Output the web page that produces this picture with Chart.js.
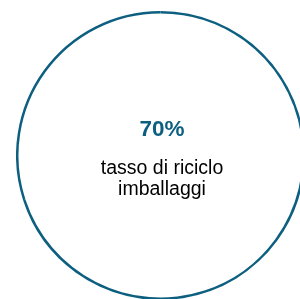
<!DOCTYPE html>
<html>
<head>
<meta charset="utf-8">
<script src="https://cdn.jsdelivr.net/npm/chart.js@4"></script>
<style>
  html, body { margin: 0; padding: 0; background: #fff; overflow: hidden; width: 300px; height: 299px; }
  #wrap { position: absolute; left: 15.5px; top: 10.5px; width: 289px; height: 289px; }
</style>
</head>
<body>
<div id="wrap"><canvas id="chartRing"></canvas></div>
<script>
// data
const labels = ['riciclato', 'non riciclato'];
const values = [70, 30];
const captionLines = ['tasso di riciclo', 'imballaggi'];
const ringColor = '#0d5f80';

const centerText = {
    id: 'centerText',
    afterDraw(chart) {
        const ctx = chart.ctx;
        const arc = chart.getDatasetMeta(0).data[0];
        const x = arc.x + 1.5, y = arc.y;
        ctx.save();
        ctx.textAlign = 'center';
        ctx.textBaseline = 'alphabetic';
        ctx.fillStyle = ringColor;
        ctx.font = 'bold 22.5px "Liberation Sans", Arial, sans-serif';
        ctx.fillText(values[0] + '%', x, y - 20);
        ctx.fillStyle = '#000';
        ctx.font = '19.5px "Liberation Sans", Arial, sans-serif';
        captionLines.forEach((line, i) => ctx.fillText(line, x, y + 18 + i * 21));
        ctx.restore();
    }
};

let ctxRing = document.querySelector('#chartRing').getContext('2d');
let chartRing = new Chart(ctxRing, {
    type: 'doughnut',
    data: {
        labels: labels,
        datasets: [{
            data: values,
            backgroundColor: [ringColor, ringColor],
            borderWidth: 0
        }]
    },
    options: {
        responsive: true,
        maintainAspectRatio: false,
        animation: false,
        cutout: 142,
        plugins: {
            legend: { display: false },
            tooltip: { enabled: false }
        }
    },
    plugins: [centerText]
});
</script>
</body>
</html>
